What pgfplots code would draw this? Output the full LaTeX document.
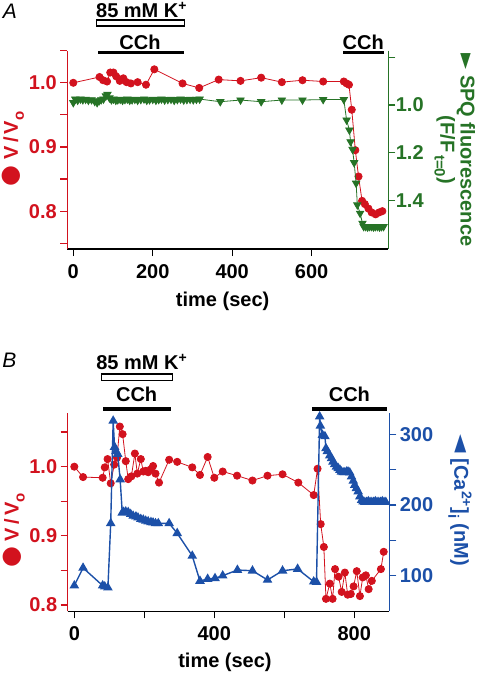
\documentclass[border=0pt]{standalone}
\usepackage{fontspec}
\setmainfont{Liberation Sans}
\newfontfamily\symf{DejaVu Sans}
\usepackage{pgfplots}
\pgfplotsset{compat=1.18}
\definecolor{cred}{RGB}{210,18,30}
\definecolor{cgreen}{RGB}{38,115,38}
\definecolor{cblue}{RGB}{28,80,168}
\newcommand{\bigf}{\fontsize{20}{22}\selectfont\bfseries}
\newcommand{\sym}[1]{{\symf\fontsize{24}{24}\selectfont\symbol{#1}}}
\newcommand{\symsm}[1]{{\symf\fontsize{21}{21}\selectfont\symbol{#1}}}
\newcommand{\sub}[1]{\raisebox{-0.3em}{\fontsize{15}{16}\selectfont #1}}
\pgfplotsset{
  base/.style={
    scale only axis, clip=false,
    tick label style={font=\bigf},
    major tick length=7pt, minor tick length=7pt,
  },
}
\begin{document}
\begin{tikzpicture}
\useasboundingbox (0pt,0pt) rectangle (479pt,-673pt);
\node[font=\fontsize{21}{22}\selectfont\itshape] at (10pt,-11.7pt) {A};
\node[font=\fontsize{21}{22}\selectfont\itshape] at (9.5pt,-360.7pt) {B};

% ===== Panel A, left axis (V/Vo)
\begin{axis}[base, at={(67.3pt,-249pt)}, anchor=south west,
  width=321pt, height=198.3pt,
  xmin=-15.1, xmax=793, ymin=0.741, ymax=1.05,
  axis x line*=bottom, axis y line*=left,
  tick align=outside,
  xtick={0,200,400,600}, xticklabels={0,200,400,600},
  xticklabel style={yshift=-5pt},
  ytick={0.8,0.9,1.0}, yticklabels={0.8,0.9,1.0},
  minor ytick={0.75,0.85,0.95,1.05},
  x axis line style={black, line width=1.2pt},
  y axis line style={cred, line width=1.2pt},
  xtick style={black, line width=1.2pt},
  ytick style={cred, line width=1.2pt},
  yticklabel style={cred},
  xlabel={time (sec)},
  every axis x label/.style={at={(axis description cs:0.484,0)}, anchor=center, yshift=-52pt, font=\bigf},
  ylabel={\sym{"25CF} V\,/\,V\sub{o}},
  every axis y label/.style={at={(axis description cs:-0.168,0.505)}, anchor=center, rotate=90, text=cred, font=\bigf},
]
\addplot[cred, line width=0.8pt, mark=*, mark size=3.6pt, mark options={fill=cred, draw=cred}] coordinates {
(0,1.000) (66,1.009) (75,1.004) (85,1.002) (93,1.016) (101,1.016) (108,1.010) (117,1.003)
(126,1.007) (134,1.001) (145,0.999) (162,1.001) (183,0.997) (204,1.021) (275,0.999) (317,0.992)
(366,1.005) (421,1.003) (473,1.008) (525,1.001) (577,1.004) (629,1.002) (681,1.002) (688,0.999)
(694,0.997) (701,0.958) (710,0.895) (718,0.854) (727,0.816) (734,0.811) (743,0.804) (751,0.798)
(761,0.795) (770,0.798) (778,0.800)
};
% annotations
\draw[black, line width=1.3pt, fill=white] (axis cs:59,1.0883) rectangle (axis cs:279.4,1.0977);
\node[font=\bigf, anchor=base] at (axis cs:172,1.1016) {85 mM K\textsuperscript{+}};
\fill[black] (axis cs:61.4,1.0447) rectangle (axis cs:279.4,1.0493);
\node[font=\bigf, anchor=base] at (axis cs:168,1.0525) {CCh};
\fill[black] (axis cs:678,1.0447) rectangle (axis cs:782,1.0493);
\node[font=\bigf, anchor=base] at (axis cs:730,1.0525) {CCh};
\end{axis}

% ===== Panel A, right axis (SPQ)
\begin{axis}[base, at={(67.3pt,-249pt)}, anchor=south west,
  width=321pt, height=198.3pt,
  xmin=-15.1, xmax=793, ymin=0.772, ymax=1.604, y dir=reverse,
  axis x line=none, axis y line*=right,
  tick align=outside,
  ytick={0.8,1.0,1.2,1.4}, yticklabels={,1.0,1.2,1.4},
  y axis line style={cgreen, line width=1.2pt},
  ytick style={cgreen, line width=1.2pt},
  yticklabel style={cgreen, xshift=-3pt},
  ylabel={\symsm{"25BA} SPQ fluorescence\\[-2pt](F/F\sub{\,t=0})},
  every axis y label/.style={at={(axis description cs:1.207,0.5)}, anchor=center, rotate=-90, align=center, text=cgreen, font=\bigf},
]
\addplot[cgreen, line width=0.8pt, mark=triangle*, mark size=4.2pt, mark options={fill=cgreen, draw=cgreen, rotate=180}] coordinates {
(0,0.990) (5,0.975) (11,0.980) (18,0.975) (24,0.978) (31,0.976) (38,0.980) (46,0.978)
(54,0.985) (60,0.990) (65,0.982) (70,0.978) (76,0.975) (82,0.962) (86,0.955) (91,0.970)
(96,0.978) (101,0.975) (107,0.980) (112,0.978) (118,0.976) (124,0.980) (130,0.977) (136,0.975)
(142,0.980) (148,0.978) (155,0.976) (162,0.980) (170,0.977) (178,0.975) (185,0.980) (192,0.978)
(200,0.976) (208,0.980) (215,0.977) (222,0.975) (230,0.979) (238,0.977) (246,0.976) (254,0.980)
(262,0.977) (270,0.975) (278,0.979) (286,0.977) (294,0.976) (302,0.978) (310,0.976) (318,0.975)
(370,0.986) (421,0.979) (473,0.986) (525,0.979) (577,0.979) (629,0.977) (681,0.977)
(688,1.063) (695,1.105) (698,1.154) (703,1.186) (707,1.242) (712,1.328) (715,1.419)
(722,1.454) (728,1.496) (731,1.510) (736,1.510) (741,1.512) (746,1.510) (751,1.510)
(756,1.512) (761,1.510) (766,1.510) (771,1.512) (776,1.510) (781,1.510)
};
\end{axis}

% ===== Panel B, left axis (V/Vo)
\begin{axis}[base, at={(67.7pt,-611.3pt)}, anchor=south west,
  width=321.6pt, height=198.6pt,
  xmin=-18.9, xmax=900, ymin=0.791, ymax=1.078,
  axis x line*=bottom, axis y line*=left,
  tick align=outside,
  xtick={0,200,400,600,800}, xticklabels={0,,400,,800},
  xticklabel style={yshift=-5pt},
  ytick={0.8,0.9,1.0}, yticklabels={0.8,0.9,1.0},
  minor ytick={0.85,0.95,1.05},
  x axis line style={black, line width=1.2pt},
  y axis line style={cred, line width=1.2pt},
  xtick style={black, line width=1.2pt},
  ytick style={cred, line width=1.2pt},
  yticklabel style={cred},
  xlabel={time (sec)},
  every axis x label/.style={at={(axis description cs:0.489,0)}, anchor=center, yshift=-51.5pt, font=\bigf},
  ylabel={\sym{"25CF} V\,/\,V\sub{o}},
  every axis y label/.style={at={(axis description cs:-0.167,0.406)}, anchor=center, rotate=90, text=cred, font=\bigf},
]
\addplot[cred, line width=0.8pt, mark=*, mark size=3.6pt, mark options={fill=cred, draw=cred}] coordinates {
(0,1.000) (25,0.985) (81,0.984) (87,0.999) (95,1.011) (104,0.976) (114,1.003) (122,1.013)
(130,1.058) (138,1.047) (147,1.008) (154,0.982) (163,0.986) (173,1.019) (180,0.990) (190,1.011)
(197,0.993) (204,0.994) (211,0.992) (218,0.996) (225,1.001) (232,0.990) (242,0.977) (271,1.010)
(294,1.007) (337,0.999) (359,0.988) (381,1.014) (400,0.984) (424,0.993) (465,0.987) (509,0.980)
(552,0.987) (595,0.989) (640,0.977) (684,0.959) (695,0.997) (704,0.917) (713,0.884) (719,0.809)
(730,0.831) (738,0.809) (745,0.852) (755,0.841) (764,0.819) (773,0.847) (781,0.815) (790,0.816)
(798,0.827) (807,0.849) (816,0.813) (824,0.840) (833,0.843) (841,0.823) (850,0.835) (876,0.852)
(884,0.877)
};
\draw[black, line width=1.3pt, fill=white] (axis cs:78,1.1245) rectangle (axis cs:281,1.1338);
\node[font=\bigf, anchor=base] at (axis cs:192.6,1.140) {85 mM K\textsuperscript{+}};
\fill[black] (axis cs:83,1.081) rectangle (axis cs:277,1.086);
\node[font=\bigf, anchor=base] at (axis cs:178,1.0937) {CCh};
\fill[black] (axis cs:680,1.081) rectangle (axis cs:894,1.086);
\node[font=\bigf, anchor=base] at (axis cs:786,1.0937) {CCh};
\end{axis}

% ===== Panel B, right axis (Ca)
\begin{axis}[base, at={(67.7pt,-611.3pt)}, anchor=south west,
  width=321.6pt, height=198.6pt,
  xmin=-18.9, xmax=900, ymin=49.6, ymax=330.5,
  axis x line=none, axis y line*=right,
  tick align=outside,
  ytick={100,150,200,250,300}, yticklabels={100,,200,,300},
  y axis line style={cblue, line width=1.2pt},
  ytick style={cblue, line width=1.2pt},
  yticklabel style={cblue},
  ylabel={\sym{"25C4} [Ca\textsuperscript{2+}]\sub{i} (nM)},
  every axis y label/.style={at={(axis description cs:1.22,0.558)}, anchor=center, rotate=-90, text=cblue, font=\bigf},
]
\addplot[cblue, line width=1.4pt, mark=triangle*, mark size=4.2pt, mark options={fill=cblue, draw=cblue}] coordinates {
(0,86) (25,111) (81,86) (87,84.5) (96,83) (104,174) (111,319) (115,282) (119,276) (124,272)
(131,236) (137,189) (141,190) (147,190.5) (154,189.7) (161,187) (168,184.5) (176,183.5)
(182,182) (190,180) (197,179) (204,177.6) (211,176.6) (219,175.6) (225,175) (232,174)
(240,174) (271,174) (294,160) (337,128) (359,92.5) (381,95.3) (402,96.3) (424,100)
(466,108) (509,107) (552,94) (595,107) (638,109.5) (684,91.5) (692,91) (701,325) (703,312)
(709,299) (716,297) (719,280) (723,276) (730,270) (735,266) (739,261) (744,257.5) (749,254)
(754,252) (759,249.5) (763,247) (768,246) (773,246) (778,247) (782,247) (787,245.7)
(792,240) (797,234) (801,228) (806,223.6) (811,219) (816,212) (821,207) (825,204.7)
(830,204) (835,204) (840,205) (845,204) (850,204) (855,204) (860,205) (865,204) (870,204)
(875,204) (880,205) (885,204) (890,204)
};
\end{axis}
\end{tikzpicture}
\end{document}
